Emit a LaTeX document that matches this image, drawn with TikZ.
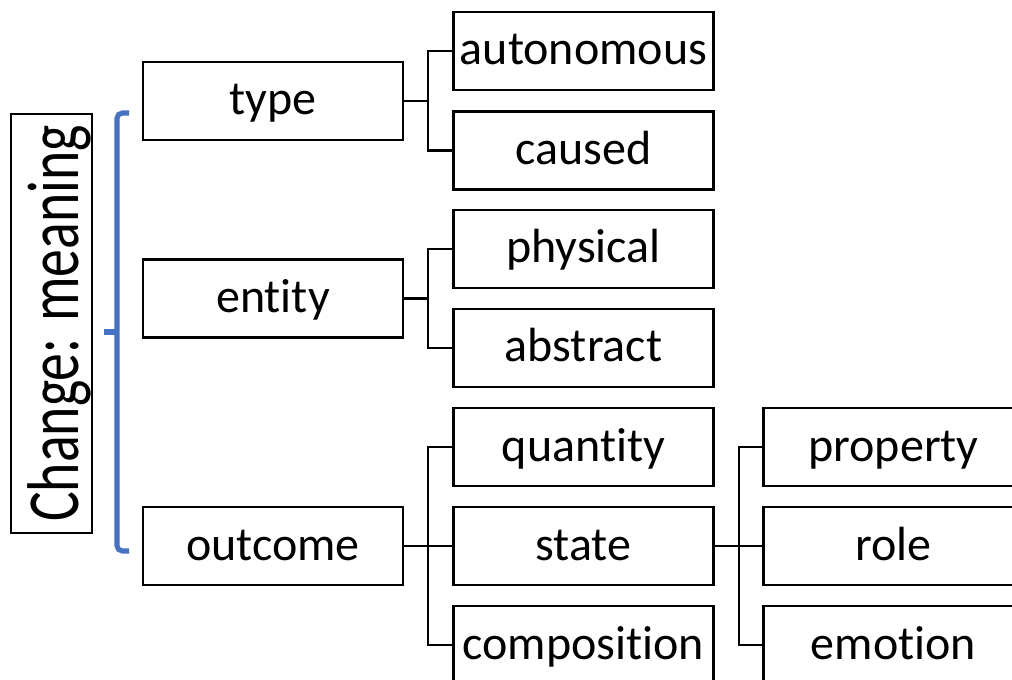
\documentclass[tikz,border=0pt]{standalone}
\usepackage{fontspec}
\setmainfont{Carlito}[RawFeature={-liga;-clig;-dlig}]
\usepackage{graphicx}
\definecolor{braceblue}{HTML}{4472C4}
\begin{document}
\begin{tikzpicture}[x=0.75pt,y=-0.75pt,
  box/.style={draw=black, line width=1.9pt, fill=white, inner sep=0pt,
    minimum width=195pt, minimum height=58.5pt,
    font=\fontsize{36}{43}\selectfont, text height=27pt, text depth=6pt},
  conn/.style={draw=black, line width=1.6pt},
  bracel/.style={draw=braceblue, line width=3.8pt}]
\useasboundingbox (0,0) rectangle (1012,680);
\clip (0,0) rectangle (1012,680);
% title box
\node[draw=black, line width=1.6pt, rotate=90, inner sep=0pt,
  minimum width=314pt, minimum height=61pt,
  font=\fontsize{55}{60}\selectfont, text height=44pt, text depth=4pt]
  (title) at (51.5,323.5) {\scalebox{0.76}[1]{Change: meaning}};
% brace
\draw[bracel, rounded corners=4pt] (129,113) -- (117,113) -- (117,551) -- (129,551);
\coordinate (bt) at (104,332);
\draw[bracel] (bt) -- (117,332);
% first column
\node[box] (type) at (273,101) {type};
\node[box] (entity) at (273,298.5) {entity};
\node[box] (outcome) at (273,546) {outcome};
% second column
\node[box] (autonomous) at (583.5,51) {autonomous};
\node[box] (caused) at (583.5,150.5) {caused};
\node[box] (physical) at (583.5,249) {physical};
\node[box] (abstract) at (583.5,348) {abstract};
\node[box] (quantity) at (583.5,447) {quantity};
\node[box] (state) at (583.5,546) {state};
\node[box] (composition) at (583.5,645) {composition};
% third column
\node[box] (property) at (893.5,447) {property};
\node[box] (role) at (893.5,546) {role};
\node[box] (emotion) at (893.5,645) {emotion};
% connectors
\coordinate (j1) at (428,101);
\coordinate (j2) at (428,298.5);
\coordinate (j3) at (428,546);
\coordinate (j4) at (739,546);
\draw[conn] (type.east) -- (j1);
\draw[conn] (autonomous.west) -| (j1) |- (caused.west);
\draw[conn] (entity.east) -- (j2);
\draw[conn] (physical.west) -| (j2) |- (abstract.west);
\draw[conn] (outcome.east) -- (state.west);
\draw[conn] (quantity.west) -| (j3) |- (composition.west);
\draw[conn] (state.east) -- (role.west);
\draw[conn] (property.west) -| (j4) |- (emotion.west);
\end{tikzpicture}
\end{document}
